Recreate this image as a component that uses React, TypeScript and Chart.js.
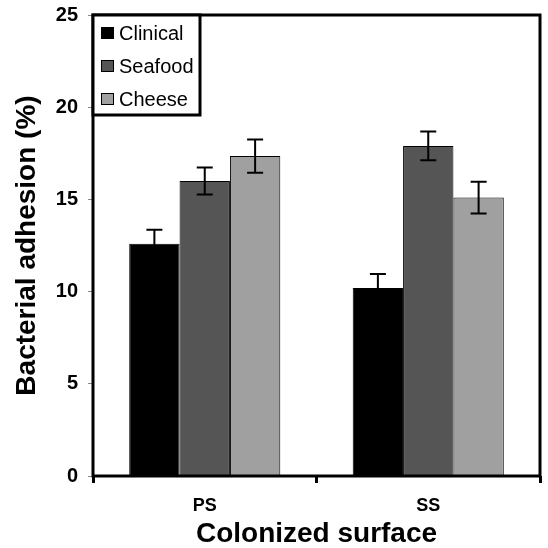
import React, { useEffect, useRef } from "react";
import { Chart, registerables } from "chart.js";
Chart.register(...registerables);

const categories = ["PS", "SS"];
const seriesNames = ["Clinical", "Seafood", "Cheese"];
const clinical = [12.6, 10.2];
const seafood = [16.0, 17.9];
const cheese = [17.35, 15.1];
const clinicalErr = [0.76, 0.76];
const seafoodErr = [0.73, 0.78];
const cheeseErr = [0.9, 0.86];
const yTicks = [0, 5, 10, 15, 20, 25];
const colors = ["#000000", "#555555", "#a0a0a0"];

const FONT = "'Liberation Sans', Arial, Helvetica, sans-serif";

const errorBarPlugin = {
  id: "errorBars",
  afterDatasetsDraw(chart: any) {
    const ctx = chart.ctx;
    const y = chart.scales.y;
    ctx.save();
    ctx.strokeStyle = "#000";
    ctx.lineWidth = 2;
    chart.data.datasets.forEach((ds: any, i: number) => {
      const meta = chart.getDatasetMeta(i);
      meta.data.forEach((bar: any, j: number) => {
        const v = ds.data[j];
        const e = ds.errors[j];
        const top = y.getPixelForValue(v + e);
        const bot = y.getPixelForValue(v - e);
        const x = bar.x;
        const cap = 8;
        ctx.beginPath();
        ctx.moveTo(x, top);
        ctx.lineTo(x, bot);
        ctx.moveTo(x - cap, top);
        ctx.lineTo(x + cap, top);
        ctx.moveTo(x - cap, bot);
        ctx.lineTo(x + cap, bot);
        ctx.stroke();
      });
    });
    ctx.restore();
  },
};

const framePlugin = {
  id: "frameLegend",
  afterDraw(chart: any) {
    const ctx = chart.ctx;
    const a = chart.chartArea;
    ctx.save();
    ctx.strokeStyle = "#000";
    ctx.lineWidth = 3;
    ctx.strokeRect(a.left, a.top, a.right - a.left, a.bottom - a.top);
    // legend box
    const lx = a.left;
    const ly = a.top;
    const lw = 107;
    const lh = 100;
    ctx.fillStyle = "#fff";
    ctx.fillRect(lx, ly, lw, lh);
    ctx.strokeRect(lx, ly, lw, lh);
    ctx.font = `20px ${FONT}`;
    ctx.textBaseline = "middle";
    ctx.textAlign = "left";
    chart.data.datasets.forEach((ds: any, i: number) => {
      const cy = ly + 18 + i * 33;
      ctx.fillStyle = ds.backgroundColor;
      ctx.fillRect(lx + 8, cy - 6, 13, 12);
      ctx.lineWidth = 1;
      ctx.strokeStyle = "#000";
      ctx.strokeRect(lx + 8.5, cy - 5.5, 12, 11);
      ctx.fillStyle = "#000";
      ctx.fillText(ds.label, lx + 26, cy + 1);
    });
    ctx.restore();
  },
};

export default function App() {
  const ref = useRef<HTMLCanvasElement>(null);
  useEffect(() => {
    if (!ref.current) return;
    const series = [clinical, seafood, cheese];
    const errs = [clinicalErr, seafoodErr, cheeseErr];
    const chart = new Chart(ref.current, {
      type: "bar",
      data: {
        labels: categories,
        datasets: seriesNames.map((name, i) => ({
          label: name,
          data: series[i],
          errors: errs[i],
          backgroundColor: colors[i],
          borderColor: "#000",
          borderWidth: 1,
          categoryPercentage: 0.676,
          barPercentage: 1,
        })) as any,
      },
      options: {
        responsive: false,
        animation: false,
        layout: { padding: { left: 0, right: 8, top: 15, bottom: 0 } },
        plugins: { legend: { display: false }, tooltip: { enabled: false } },
        scales: {
          x: {
            grid: { drawOnChartArea: false, tickLength: 7, color: "#000", lineWidth: 3, offset: true },
            border: { display: false },
            ticks: { color: "#000", padding: 12, font: { family: FONT, size: 18, weight: "bold" } },
            title: {
              display: true,
              text: "Colonized surface",
              color: "#000",
              font: { family: FONT, size: 28, weight: "bold", lineHeight: 1.0 },
              padding: { top: 0, bottom: 0 },
            },
            afterFit(scale: any) {
              scale.height = 72;
              scale.paddingLeft = 0;
              scale.paddingRight = 0;
            },
          },
          y: {
            min: 0,
            max: 25,
            afterBuildTicks(scale: any) {
              scale.ticks = yTicks.map((v) => ({ value: v }));
            },
            grid: { drawOnChartArea: false, tickLength: 5, color: "#888", lineWidth: 1 },
            border: { display: false },
            ticks: { color: "#000", padding: 10, font: { family: FONT, size: 20, weight: "bold" } },
            title: {
              display: true,
              text: "Bacterial adhesion (%)",
              color: "#000",
              font: { family: FONT, size: 28, weight: "bold" },
              padding: { top: 10, bottom: 0 },
            },
            afterFit(scale: any) {
              scale.width = 93;
              scale.paddingTop = 0;
              scale.paddingBottom = 0;
            },
          },
        },
      },
      plugins: [errorBarPlugin, framePlugin],
    });
    return () => chart.destroy();
  }, []);
  return (
    <div style={{ position: "absolute", left: 0, top: 0, width: 548, height: 548, background: "#fff" }}>
      <canvas ref={ref} width={548} height={548} style={{ display: "block" }} />
    </div>
  );
}
